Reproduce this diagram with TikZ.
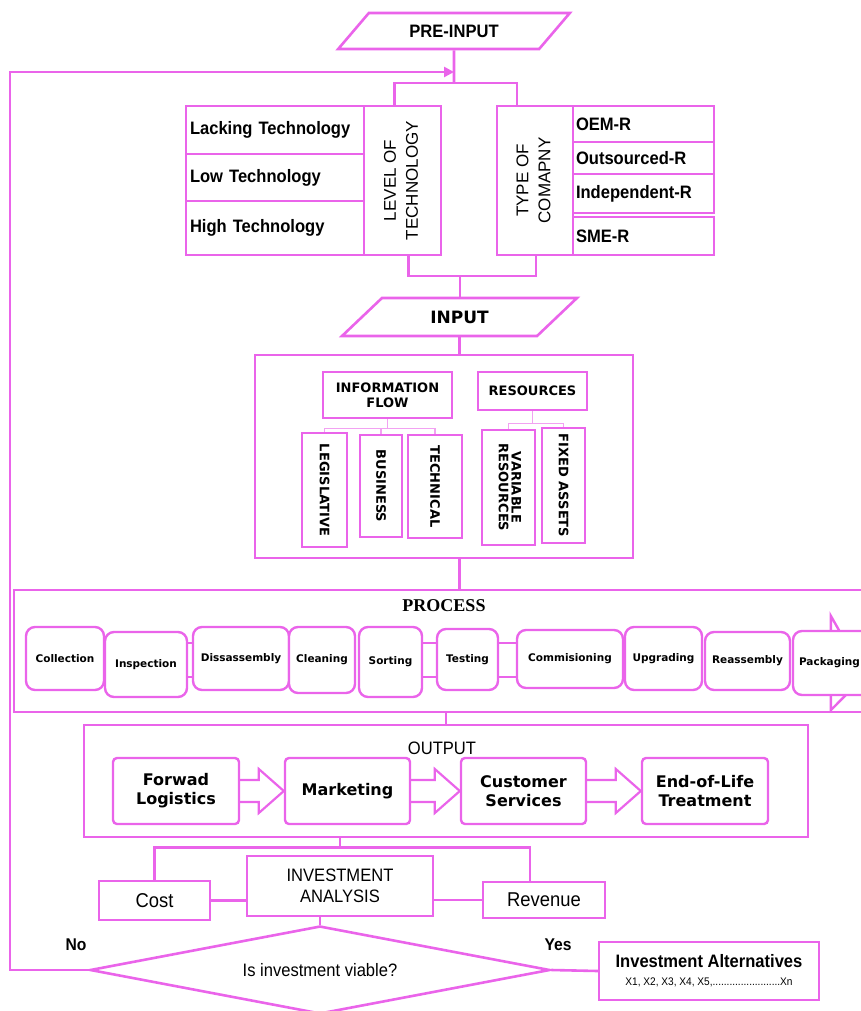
\documentclass[tikz,border=0pt]{standalone}
\usepackage{fontspec}
\usepackage{graphicx}
\setmainfont{Liberation Sans}
\newfontfamily\condfont[FakeStretch=0.92]{Liberation Sans}
\newfontfamily\verdfont{DejaVu Sans}
\newfontfamily\serfont{Liberation Serif}
\usetikzlibrary{shapes.geometric,calc,arrows.meta,backgrounds}
\definecolor{mag}{RGB}{234,100,234}

\newcommand\outarrow[2]{%
  \draw[line, line width=2.2pt, line join=miter]
    ($(#1.east)+(0,-11)$) -- ($(#2.west)+(-25,-11)$) -- ($(#2.west)+(-25,-22)$)
    -- (#2.west) -- ($(#2.west)+(-25,22)$) -- ($(#2.west)+(-25,11)$)
    -- ($(#1.east)+(0,11)$);}

\begin{document}
\begin{tikzpicture}[x=1pt, y=-1pt, font=\condfont\fontsize{18}{20}\selectfont]
  \tikzset{line/.style={draw=mag, line width=2.6pt}}
  \tikzset{box/.style={line, rectangle, inner sep=0pt, align=center}}
  \tikzset{lcell/.style={box, inner xsep=4pt, text width=170pt, align=left, minimum width=178, font=\condfont\bfseries\fontsize{18}{20}\selectfont}}
  \tikzset{rcell/.style={box, inner xsep=3pt, text width=135pt, align=left, minimum width=141, font=\condfont\bfseries\fontsize{18}{20}\selectfont}}
  \tikzset{para/.style={line, trapezium, trapezium stretches=true, inner sep=0pt}}
  \tikzset{inbox/.style={box, line width=2.4pt, font=\verdfont\bfseries\fontsize{13}{13}\selectfont}}
  \tikzset{tree/.style={draw=mag!60, line width=1.2pt}}
  \tikzset{stepbox/.style={box, line width=2.4pt, rounded corners=9pt, fill=white, font=\verdfont\bfseries\fontsize{10.5}{12}\selectfont}}
  \tikzset{outbox/.style={box, line width=2.4pt, rounded corners=4pt, font=\verdfont\bfseries\fontsize{16}{19}\selectfont}}
  \useasboundingbox (0,0) rectangle (861,1011);

  % Pre-input
  \node[para, trapezium left angle=38, trapezium right angle=142, minimum width=232, minimum height=36,
        font=\condfont\bfseries\fontsize{18}{20}\selectfont] (pre) at (454,31) {PRE-INPUT};

  % Level of technology
  \node[lcell, minimum height=48] (lack) at (275,130) {Lacking Technology};
  \node[lcell, minimum height=47] (low) at (275,177.5) {Low Technology};
  \node[lcell, minimum height=54] (high) at (275,228) {High Technology};
  \node[box, minimum width=77, minimum height=149, font=\fontsize{17}{22}\selectfont] (levtech) at (402.5,180.5)
      {\rotatebox{90}{\begin{tabular}{@{}c@{}}LEVEL OF\\TECHNOLOGY\end{tabular}}};

  % Type of company
  \node[box, minimum width=76, minimum height=149, font=\fontsize{17}{22}\selectfont] (typecomp) at (535,180.5)
      {\rotatebox{90}{\begin{tabular}{@{}c@{}}TYPE OF\\COMAPNY\end{tabular}}};
  \node[rcell, minimum height=36] (oem) at (643.5,124) {OEM-R};
  \node[rcell, minimum height=32] (outs) at (643.5,158) {Outsourced-R};
  \node[rcell, minimum height=39] (indep) at (643.5,193.5) {Independent-R};
  \node[rcell, minimum height=38] (sme) at (643.5,236) {SME-R};

  \coordinate (topsplit) at (454,83);
  \draw[line] (pre.south) -- (topsplit);
  \draw[line] ($(levtech.north)+(-8,0)$) |- (topsplit) -| ($(typecomp.north)+(-18,0)$);

  % Input
  \node[para, trapezium left angle=40, trapezium right angle=140, minimum width=237, minimum height=38,
        font=\verdfont\bfseries\fontsize{17}{19}\selectfont] (inp) at (459.5,317) {INPUT};
  \coordinate (botsplit) at (460,276);
  \draw[line] ($(levtech.south)+(6,0)$) |- (botsplit) -| ($(typecomp.south)+(1,0)$);
  \draw[line] (botsplit) -- (botsplit |- inp.north);

  \node[box, minimum width=378, minimum height=203] (inbox) at (444,456.5) {};
  \draw[line] (inp.south) -- (inp.south |- inbox.north);
  \node[inbox, minimum width=129, minimum height=46] (iflow) at (387.5,395) {INFORMATION\\[2pt]FLOW};
  \node[inbox, minimum width=109, minimum height=38] (res) at (532.5,391) {RESOURCES};
  \node[inbox, minimum width=45, minimum height=114] (leg) at (324.5,490) {\rotatebox{-90}{LEGISLATIVE}};
  \node[inbox, minimum width=42, minimum height=102] (bus) at (381,486) {\rotatebox{-90}{BUSINESS}};
  \node[inbox, minimum width=54, minimum height=103] (tech) at (435,486.5) {\rotatebox{-90}{TECHNICAL}};
  \node[inbox, minimum width=53, minimum height=115] (var) at (508.5,487.5)
      {\rotatebox{-90}{\renewcommand\arraystretch{0.8}\begin{tabular}{@{}c@{}}VARIABLE\\RESOURCES\end{tabular}}};
  \node[inbox, minimum width=43, minimum height=115] (fix) at (563.5,485.5) {\rotatebox{-90}{FIXED ASSETS}};

  \draw[tree] (iflow.south) -- ++(0,9) coordinate (ifsplit);
  \draw[tree] (leg.north) |- (ifsplit) -| (tech.north);
  \draw[tree] (ifsplit -| bus.north) -- (bus.north);
  \draw[tree] (res.south) -- ++(0,12) coordinate (ressplit);
  \draw[tree] (var.north) |- (ressplit) -| (fix.north);

  % Process
  \node[box, minimum width=856, minimum height=122] (proc) at (442,651) {};
  \draw[line] (inp.south |- inbox.south) -- (inp.south |- proc.north);
  \node[font=\serfont\bfseries\fontsize{18}{20}\selectfont] (proctitle) at (444,606) {PROCESS};
  \foreach \name/\cx/\cy/\w/\h/\txt in {coll/65/658.5/78/63/Collection, insp/146/664.5/82/65/Inspection,
      diss/241/658.5/96/63/Dissassembly, clean/322/660/66/66/Cleaning, sort/390.5/662/63/70/Sorting,
      test/467.5/659.5/61/61/Testing, comm/570/659/106/58/Commisioning, upg/663.5/658.5/77/63/Upgrading,
      reas/747.5/661/85/58/Reassembly}
    \node[stepbox, minimum width=\w, minimum height=\h] (\name) at (\cx,\cy) {\txt};
  \node[stepbox, minimum width=86, minimum height=64, inner xsep=6pt, text width=74pt, align=left] (pack) at (836,663) {Packaging};
  \begin{pgfonlayer}{background}
    \draw[line, line width=2.4pt] ($(pack.north west)+(39,0)$) -- ++(0,-14) -- ($(pack.north west)+(73,46)$)
      -- ($(pack.south west)+(39,14)$) -- ++(0,-14);
  \end{pgfonlayer}
  \coordinate (jt) at (0,643);
  \coordinate (jb) at (0,677);
  \foreach \a/\b in {insp/diss, sort/test, test/comm}
    \draw[line, line width=2.2pt] (\a.east |- jt) -- (\b.west |- jt) (\a.east |- jb) -- (\b.west |- jb);

  % Output
  \node[box, minimum width=724, minimum height=112] (outbox) at (446,781) {};
  \draw[line] (outbox.north) -- (outbox.north |- proc.south);
  \node (outtitle) at (442,748) {OUTPUT};
  \node[outbox, minimum width=126, minimum height=66] (fwd) at (176,791) {Forwad\\Logistics};
  \node[outbox, minimum width=125, minimum height=66] (mkt) at (347.5,791) {Marketing};
  \node[outbox, minimum width=125, minimum height=66] (cust) at (523.5,791) {Customer\\Services};
  \node[outbox, minimum width=126, minimum height=66] (eol) at (705,791) {End-of-Life\\Treatment};
  \foreach \a/\b in {fwd/mkt, mkt/cust, cust/eol}
    {\outarrow{\a}{\b}}

  % Investment analysis
  \node[box, minimum width=186, minimum height=60, font=\condfont\fontsize{18}{21}\selectfont] (ia) at (340,886) {INVESTMENT\\ANALYSIS};
  \node[box, minimum width=111, minimum height=39, font=\condfont\fontsize{20}{22}\selectfont] (cost) at (154.5,900.5) {Cost};
  \node[box, minimum width=122, minimum height=36, font=\condfont\fontsize{20}{22}\selectfont] (rev) at (544,900) {Revenue};
  \draw[line] (outbox.south -| ia.north) -- ++(0,9) coordinate (brk);
  \draw[line] (cost.north) |- (brk) -| ($(rev.north)+(-14,0)$);
  \draw[line] (cost.east) -- (cost.east -| ia.west);
  \draw[line] (ia.east |- rev.west) -- (rev.west);

  % Decision
  \node[line, diamond, aspect=5.2, minimum width=460, minimum height=88, inner sep=0pt] (dec) at (320,970) {Is investment viable?};
  \draw[line] (dec.north |- ia.south) -- (dec.north);
  \node[font=\condfont\bfseries\fontsize{17}{19}\selectfont] (nolab) at (76,945) {No};
  \node[font=\condfont\bfseries\fontsize{17}{19}\selectfont] (yeslab) at (558,945) {Yes};
  \node[box, line width=2.4pt, minimum width=220, minimum height=58, font=\condfont\fontsize{18}{18}\selectfont] (alt) at (709,971)
      {{\bfseries Investment Alternatives}\\{\fontsize{11}{13}\selectfont X1, X2, X3, X4, X5,........................Xn}};
  \draw[line] (dec.east) -- (alt.west);

  % Loop back when not viable
  \coordinate (loop) at (10,72);
  \draw[line, -{Triangle[length=10pt,width=10pt]}] (dec.west) -| (loop) -- (loop -| pre.south);
\end{tikzpicture}
\end{document}
